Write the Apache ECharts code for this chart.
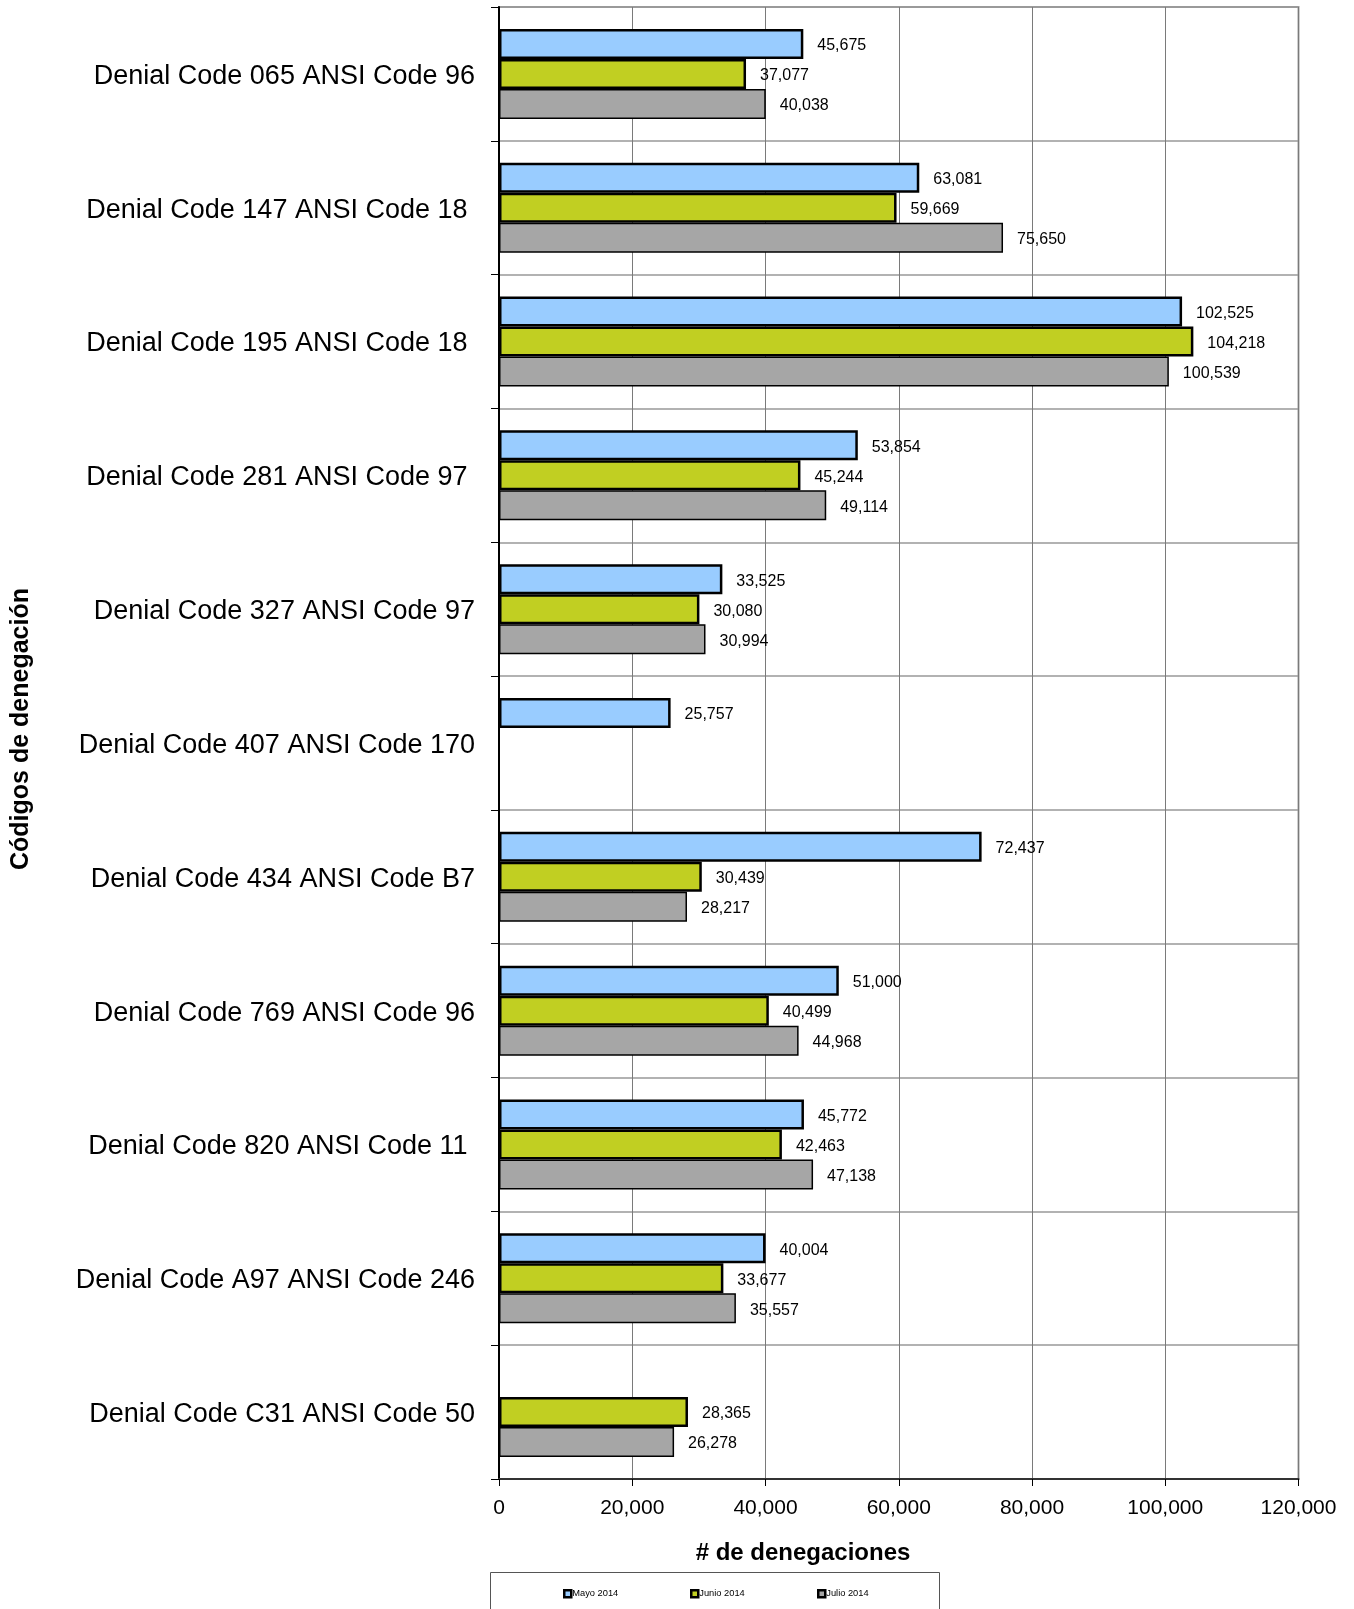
<!DOCTYPE html>
<html>
<head>
<meta charset="utf-8">
<script src="https://cdn.jsdelivr.net/npm/echarts@6/dist/echarts.min.js"></script>
<style>
  html, body { margin: 0; padding: 0; background: #fff; }
  #chart { width: 1354px; height: 1609px; }
</style>
</head>
<body>
<div id="chart"></div>
<script>
// Denial codes (trailing spaces kept as in the source labels)
const categories = [
  'Denial Code 065 ANSI Code 96',
  'Denial Code 147 ANSI Code 18 ',
  'Denial Code 195 ANSI Code 18 ',
  'Denial Code 281 ANSI Code 97 ',
  'Denial Code 327 ANSI Code 97',
  'Denial Code 407 ANSI Code 170',
  'Denial Code 434 ANSI Code B7',
  'Denial Code 769 ANSI Code 96',
  'Denial Code 820 ANSI Code 11 ',
  'Denial Code A97 ANSI Code 246',
  'Denial Code C31 ANSI Code 50'
];

const seriesNames = ['Mayo 2014', 'Junio 2014', 'Julio 2014'];

const mayo  = [45675, 63081, 102525, 53854, 33525, 25757, 72437, 51000, 45772, 40004, null];
const junio = [37077, 59669, 104218, 45244, 30080, null, 30439, 40499, 42463, 33677, 28365];
const julio = [40038, 75650, 100539, 49114, 30994, null, 28217, 44968, 47138, 35557, 26278];

const xTicks = [0, 20000, 40000, 60000, 80000, 100000, 120000];

const FONT = '"Liberation Sans", Arial, sans-serif';
const fmt = v => Number(v).toLocaleString('en-US');

const chart = echarts.init(document.getElementById('chart'), null, { renderer: 'canvas' });

function barSeries(name, data, color, bw) {
  return {
    name: name,
    type: 'bar',
    data: data,
    barWidth: 30,
    barGap: '0%',
    itemStyle: { color: color, borderColor: '#000', borderWidth: bw },
    label: {
      show: true,
      position: 'right',
      distance: 14,
      offset: [0, 2],
      fontFamily: FONT,
      fontSize: 16,
      color: '#000',
      formatter: p => fmt(p.value)
    },
    emphasis: { disabled: true }
  };
}

function legendAt(name, left) {
  return {
    data: [name],
    left: left,
    top: 1589,
    itemWidth: 7,
    itemHeight: 7,
    itemGap: 0,
    padding: 0,
    icon: 'rect',
    itemStyle: { borderColor: '#000', borderWidth: 2.5 },
    textStyle: { fontFamily: FONT, fontSize: 9.3, color: '#000', padding: [0, 0, 0, -4] }
  };
}

chart.setOption({
  animation: false,
  backgroundColor: '#fff',
  grid: {
    left: 499, right: 55.5, top: 7, bottom: 130,
    show: true,
    borderColor: '#a0a0a0',
    borderWidth: 2,
    backgroundColor: 'transparent'
  },
  legend: [
    legendAt(seriesNames[0], 563),
    legendAt(seriesNames[1], 690),
    legendAt(seriesNames[2], 817)
  ],
  xAxis: {
    type: 'value',
    min: xTicks[0],
    max: xTicks[xTicks.length - 1],
    interval: xTicks[1] - xTicks[0],
    axisLine: { show: true, lineStyle: { color: '#333', width: 2 } },
    axisTick: { show: true, length: 7, lineStyle: { color: '#000', width: 1 } },
    axisLabel: {
      fontFamily: FONT, fontSize: 21, color: '#000', margin: 19,
      formatter: v => fmt(v)
    },
    splitLine: { show: true, lineStyle: { color: '#7a7a7a', width: 1 } }
  },
  yAxis: {
    type: 'category',
    data: categories,
    inverse: true,
    axisLine: { show: true, lineStyle: { color: '#000', width: 2 } },
    axisTick: { show: true, length: 8, lineStyle: { color: '#000', width: 1 } },
    axisLabel: {
      fontFamily: FONT, fontSize: 27, color: '#000', margin: 24,
      verticalAlign: 'top',
      lineHeight: 5
    },
    splitLine: { show: true, lineStyle: { color: '#999', width: 1.5 } }
  },
  series: [
    barSeries(seriesNames[0], mayo, '#99ccff', 2.5),
    barSeries(seriesNames[1], junio, '#c1cf22', 2.5),
    barSeries(seriesNames[2], julio, '#a6a6a6', 1.5)
  ],
  graphic: [
    {
      type: 'rect',
      shape: { x: 490.5, y: 1572.5, width: 449, height: 60 },
      style: { fill: 'none', stroke: '#555', lineWidth: 1 },
      silent: true, z: -1
    },
    {
      type: 'text',
      x: 803, y: 1553,
      style: {
        text: '# de denegaciones',
        font: 'bold 24px ' + FONT,
        fill: '#000',
        align: 'center',
        verticalAlign: 'middle'
      }
    },
    {
      type: 'text',
      x: 21, y: 729,
      rotation: Math.PI / 2,
      style: {
        text: 'Códigos de denegación',
        font: 'bold 25px ' + FONT,
        fill: '#000',
        align: 'center',
        verticalAlign: 'middle'
      }
    }
  ]
});
</script>
</body>
</html>
